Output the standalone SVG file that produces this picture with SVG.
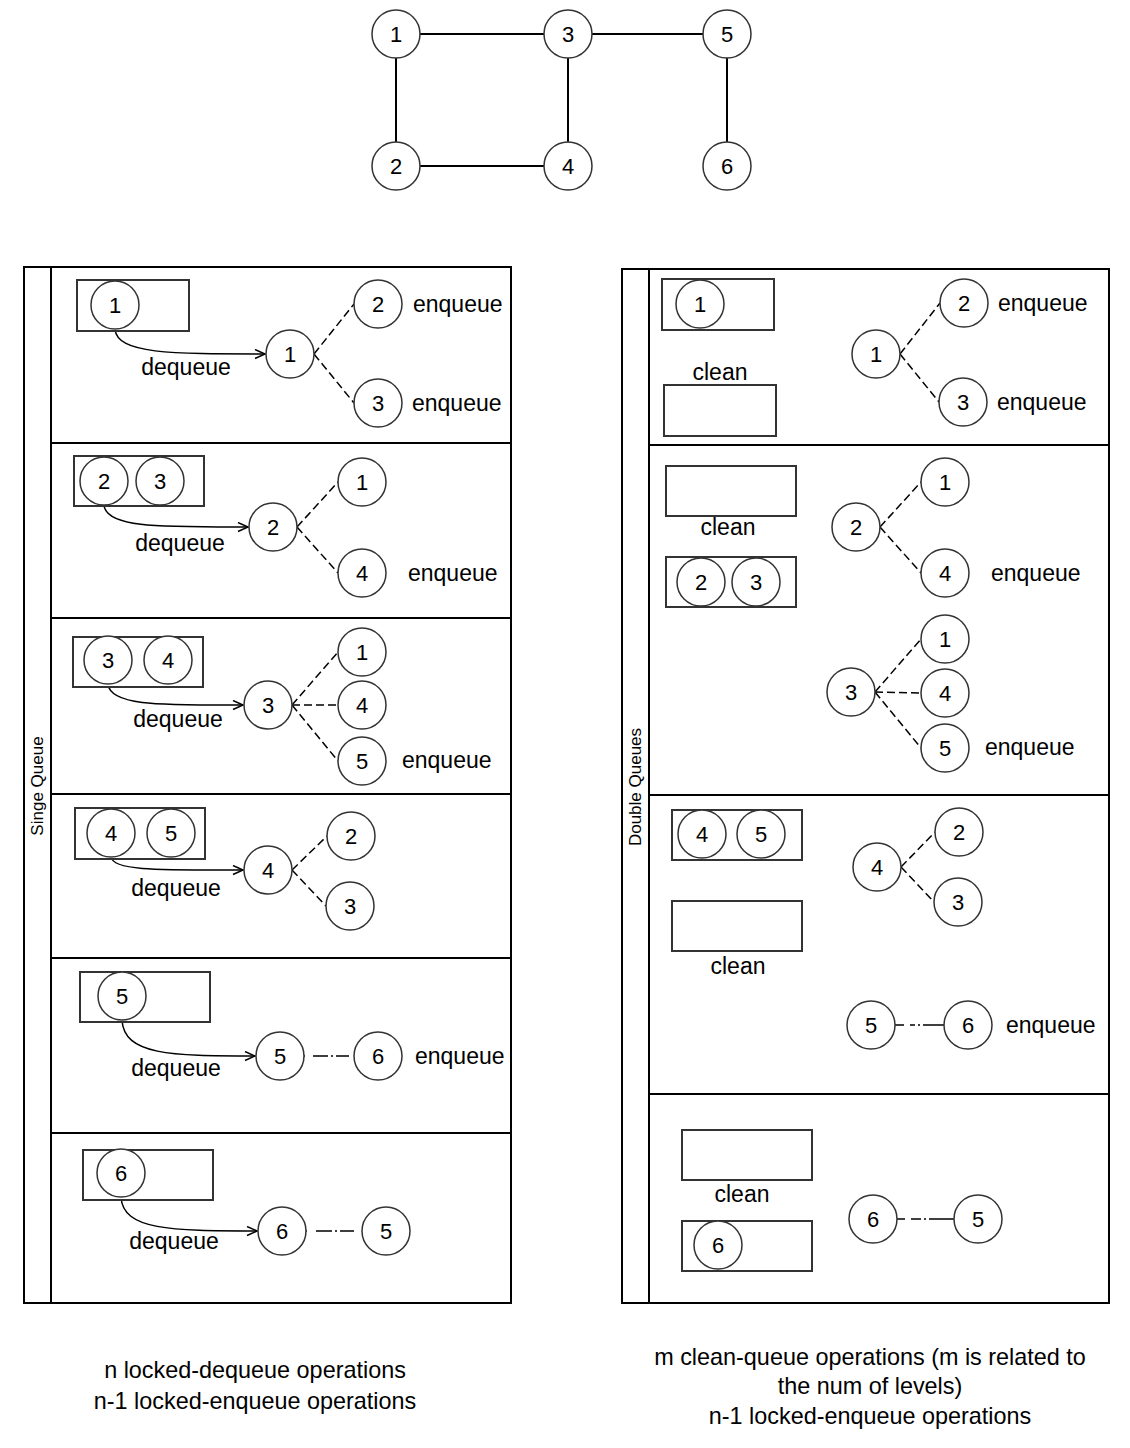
<svg xmlns="http://www.w3.org/2000/svg" width="1130" height="1448" viewBox="0 0 1130 1448">
<style>
.n{fill:#fff;stroke:#333;stroke-width:1.5}
.d{font-family:"Liberation Sans",Arial,sans-serif;font-size:22px;fill:#000;text-anchor:middle}
.l{font-family:"Liberation Sans",Arial,sans-serif;font-size:23px;fill:#000}
.c{font-size:23.4px}
.m{text-anchor:middle}
.q{fill:#fff;stroke:#333;stroke-width:2}
.pool{fill:none;stroke:#000;stroke-width:2}
.e{stroke:#000;stroke-width:2;fill:none}
.ds{stroke:#000;stroke-width:1.5;fill:none;stroke-dasharray:8 4}
.dd{stroke:#000;stroke-width:1.5;fill:none}
.ar{stroke:#000;stroke-width:1.5;fill:none;marker-end:url(#arr)}
.v{font-family:"Liberation Sans",Arial,sans-serif;font-size:17px;fill:#000;text-anchor:middle}
</style>
<defs>
<marker id="arr" markerUnits="userSpaceOnUse" markerWidth="14" markerHeight="12" refX="11" refY="5" orient="auto">
<path d="M1,0.5 L11,5 L1,9.5" fill="none" stroke="#000" stroke-width="1.5"/>
</marker>
</defs>

<!-- pools and lanes -->
<g id="pool-single">
<rect class="pool" x="24" y="267" width="487" height="1036"/>
<line class="pool" x1="51" y1="267" x2="51" y2="1303"/>
<line class="pool" x1="51" y1="443" x2="511" y2="443"/>
<line class="pool" x1="51" y1="618" x2="511" y2="618"/>
<line class="pool" x1="51" y1="794" x2="511" y2="794"/>
<line class="pool" x1="51" y1="958" x2="511" y2="958"/>
<line class="pool" x1="51" y1="1133" x2="511" y2="1133"/>
<text class="v" transform="translate(43,786) rotate(-90)">Singe Queue</text>
</g>
<g id="pool-double">
<rect class="pool" x="622" y="269" width="487" height="1034"/>
<line class="pool" x1="649" y1="269" x2="649" y2="1303"/>
<line class="pool" x1="649" y1="445" x2="1109" y2="445"/>
<line class="pool" x1="649" y1="795" x2="1109" y2="795"/>
<line class="pool" x1="649" y1="1094" x2="1109" y2="1094"/>
<text class="v" transform="translate(641,787) rotate(-90)">Double Queues</text>
</g>

<!-- connectors -->
<g id="connectors">
<line class="e" x1="420" y1="34" x2="544" y2="34"/>
<line class="e" x1="592" y1="34" x2="703" y2="34"/>
<line class="e" x1="396" y1="58" x2="396" y2="142"/>
<line class="e" x1="568" y1="58" x2="568" y2="142"/>
<line class="e" x1="727" y1="58" x2="727" y2="142"/>
<line class="e" x1="420" y1="166" x2="544" y2="166"/>

<path class="ar" d="M115,329 C117,354 170,354 265,354"/>
<path class="ar" d="M104,505 C106,528 160,527 248,527"/>
<path class="ar" d="M108,684 C110,706 160,705 243,705"/>
<path class="ar" d="M111,857 C113,871 160,870 243,870"/>
<path class="ar" d="M122,1020 C124,1055 170,1056 255,1056"/>
<path class="ar" d="M121,1197 C123,1230 170,1231 257,1231"/>

<line class="ds" x1="314" y1="354" x2="354" y2="304"/>
<line class="ds" x1="314" y1="354" x2="354" y2="403"/>
<line class="ds" x1="297" y1="527" x2="338" y2="482"/>
<line class="ds" x1="297" y1="527" x2="338" y2="573"/>
<line class="ds" x1="292" y1="705" x2="338" y2="652"/>
<line class="ds" x1="292" y1="705" x2="338" y2="705"/>
<line class="ds" x1="292" y1="705" x2="338" y2="761"/>
<line class="ds" x1="292" y1="870" x2="327" y2="836"/>
<line class="ds" x1="292" y1="870" x2="326" y2="906"/>
<line class="dd" x1="304" y1="1056" x2="354" y2="1056" style="stroke-dasharray:1 8 15 3 2 3 13 5"/>
<line class="dd" x1="306" y1="1231" x2="362" y2="1231" style="stroke-dasharray:1 9 16 3 2 3 14 8"/>

<line class="ds" x1="900" y1="354" x2="940" y2="303"/>
<line class="ds" x1="900" y1="354" x2="939" y2="402"/>
<line class="ds" x1="880" y1="527" x2="921" y2="482"/>
<line class="ds" x1="880" y1="527" x2="921" y2="573"/>
<line class="ds" x1="875" y1="692" x2="921" y2="639"/>
<line class="ds" x1="875" y1="692" x2="921" y2="693"/>
<line class="ds" x1="875" y1="692" x2="921" y2="748"/>
<line class="ds" x1="901" y1="867" x2="935" y2="832"/>
<line class="ds" x1="901" y1="867" x2="934" y2="902"/>
<line class="dd" x1="895" y1="1025" x2="944" y2="1025" style="stroke-dasharray:9 6 5 3 2 3 21"/>
<line class="dd" x1="897" y1="1219" x2="954" y2="1219" style="stroke-dasharray:8 6 10 3 2 3 25"/>
</g>

<!-- top graph -->
<g id="g1"><circle class="n" cx="396" cy="34" r="24"/><text class="d" x="396" y="42">1</text></g>
<g id="g3"><circle class="n" cx="568" cy="34" r="24"/><text class="d" x="568" y="42">3</text></g>
<g id="g5"><circle class="n" cx="727" cy="34" r="24"/><text class="d" x="727" y="42">5</text></g>
<g id="g2"><circle class="n" cx="396" cy="166" r="24"/><text class="d" x="396" y="174">2</text></g>
<g id="g4"><circle class="n" cx="568" cy="166" r="24"/><text class="d" x="568" y="174">4</text></g>
<g id="g6"><circle class="n" cx="727" cy="166" r="24"/><text class="d" x="727" y="174">6</text></g>

<!-- single queue lane 1 -->
<g id="s1-queue"><rect class="q" x="77" y="280" width="112" height="51"/></g>
<g id="s1-q1"><circle class="n" cx="115" cy="305" r="24"/><text class="d" x="115" y="313">1</text></g>
<g id="s1-n1"><circle class="n" cx="290" cy="354" r="24"/><text class="d" x="290" y="362">1</text></g>
<g id="s1-n2"><circle class="n" cx="378" cy="304" r="24"/><text class="d" x="378" y="312">2</text></g>
<g id="s1-n3"><circle class="n" cx="378" cy="403" r="24"/><text class="d" x="378" y="411">3</text></g>
<g id="s1-labels">
<text class="l m" x="186" y="375">dequeue</text>
<text class="l" x="413" y="312">enqueue</text>
<text class="l" x="412" y="411">enqueue</text>
</g>

<!-- single queue lane 2 -->
<g id="s2-queue"><rect class="q" x="74" y="456" width="130" height="50"/></g>
<g id="s2-q2"><circle class="n" cx="104" cy="481" r="24"/><text class="d" x="104" y="489">2</text></g>
<g id="s2-q3"><circle class="n" cx="160" cy="481" r="24"/><text class="d" x="160" y="489">3</text></g>
<g id="s2-n2"><circle class="n" cx="273" cy="527" r="24"/><text class="d" x="273" y="535">2</text></g>
<g id="s2-n1"><circle class="n" cx="362" cy="482" r="24"/><text class="d" x="362" y="490">1</text></g>
<g id="s2-n4"><circle class="n" cx="362" cy="573" r="24"/><text class="d" x="362" y="581">4</text></g>
<g id="s2-labels">
<text class="l m" x="180" y="551">dequeue</text>
<text class="l" x="408" y="581">enqueue</text>
</g>

<!-- single queue lane 3 -->
<g id="s3-queue"><rect class="q" x="73" y="637" width="130" height="50"/></g>
<g id="s3-q3"><circle class="n" cx="108" cy="660" r="24"/><text class="d" x="108" y="668">3</text></g>
<g id="s3-q4"><circle class="n" cx="168" cy="660" r="24"/><text class="d" x="168" y="668">4</text></g>
<g id="s3-n3"><circle class="n" cx="268" cy="705" r="24"/><text class="d" x="268" y="713">3</text></g>
<g id="s3-n1"><circle class="n" cx="362" cy="652" r="24"/><text class="d" x="362" y="660">1</text></g>
<g id="s3-n4"><circle class="n" cx="362" cy="705" r="24"/><text class="d" x="362" y="713">4</text></g>
<g id="s3-n5"><circle class="n" cx="362" cy="761" r="24"/><text class="d" x="362" y="769">5</text></g>
<g id="s3-labels">
<text class="l m" x="178" y="727">dequeue</text>
<text class="l" x="402" y="768">enqueue</text>
</g>

<!-- single queue lane 4 -->
<g id="s4-queue"><rect class="q" x="75" y="808" width="130" height="51"/></g>
<g id="s4-q4"><circle class="n" cx="111" cy="833" r="24"/><text class="d" x="111" y="841">4</text></g>
<g id="s4-q5"><circle class="n" cx="171" cy="833" r="24"/><text class="d" x="171" y="841">5</text></g>
<g id="s4-n4"><circle class="n" cx="268" cy="870" r="24"/><text class="d" x="268" y="878">4</text></g>
<g id="s4-n2"><circle class="n" cx="351" cy="836" r="24"/><text class="d" x="351" y="844">2</text></g>
<g id="s4-n3"><circle class="n" cx="350" cy="906" r="24"/><text class="d" x="350" y="914">3</text></g>
<g id="s4-labels"><text class="l m" x="176" y="896">dequeue</text></g>

<!-- single queue lane 5 -->
<g id="s5-queue"><rect class="q" x="80" y="972" width="130" height="50"/></g>
<g id="s5-q5"><circle class="n" cx="122" cy="996" r="24"/><text class="d" x="122" y="1004">5</text></g>
<g id="s5-n5"><circle class="n" cx="280" cy="1056" r="24"/><text class="d" x="280" y="1064">5</text></g>
<g id="s5-n6"><circle class="n" cx="378" cy="1056" r="24"/><text class="d" x="378" y="1064">6</text></g>
<g id="s5-labels">
<text class="l m" x="176" y="1076">dequeue</text>
<text class="l" x="415" y="1064">enqueue</text>
</g>

<!-- single queue lane 6 -->
<g id="s6-queue"><rect class="q" x="83" y="1150" width="130" height="50"/></g>
<g id="s6-q6"><circle class="n" cx="121" cy="1173" r="24"/><text class="d" x="121" y="1181">6</text></g>
<g id="s6-n6"><circle class="n" cx="282" cy="1231" r="24"/><text class="d" x="282" y="1239">6</text></g>
<g id="s6-n5"><circle class="n" cx="386" cy="1231" r="24"/><text class="d" x="386" y="1239">5</text></g>
<g id="s6-labels"><text class="l m" x="174" y="1249">dequeue</text></g>

<!-- double queues lane 1 -->
<g id="d1-queue-a"><rect class="q" x="662" y="279" width="112" height="51"/></g>
<g id="d1-q1"><circle class="n" cx="700" cy="304" r="24"/><text class="d" x="700" y="312">1</text></g>
<g id="d1-queue-b"><rect class="q" x="664" y="385" width="112" height="51"/></g>
<g id="d1-n1"><circle class="n" cx="876" cy="354" r="24"/><text class="d" x="876" y="362">1</text></g>
<g id="d1-n2"><circle class="n" cx="964" cy="303" r="24"/><text class="d" x="964" y="311">2</text></g>
<g id="d1-n3"><circle class="n" cx="963" cy="402" r="24"/><text class="d" x="963" y="410">3</text></g>
<g id="d1-labels">
<text class="l m" x="720" y="380">clean</text>
<text class="l" x="998" y="311">enqueue</text>
<text class="l" x="997" y="410">enqueue</text>
</g>

<!-- double queues lane 2 -->
<g id="d2-queue-a"><rect class="q" x="666" y="466" width="130" height="50"/></g>
<g id="d2-queue-b"><rect class="q" x="666" y="557" width="130" height="50"/></g>
<g id="d2-q2"><circle class="n" cx="701" cy="582" r="24"/><text class="d" x="701" y="590">2</text></g>
<g id="d2-q3"><circle class="n" cx="756" cy="582" r="24"/><text class="d" x="756" y="590">3</text></g>
<g id="d2-n2"><circle class="n" cx="856" cy="527" r="24"/><text class="d" x="856" y="535">2</text></g>
<g id="d2-n1"><circle class="n" cx="945" cy="482" r="24"/><text class="d" x="945" y="490">1</text></g>
<g id="d2-n4"><circle class="n" cx="945" cy="573" r="24"/><text class="d" x="945" y="581">4</text></g>
<g id="d2-n3b"><circle class="n" cx="851" cy="692" r="24"/><text class="d" x="851" y="700">3</text></g>
<g id="d2-n1b"><circle class="n" cx="945" cy="639" r="24"/><text class="d" x="945" y="647">1</text></g>
<g id="d2-n4b"><circle class="n" cx="945" cy="693" r="24"/><text class="d" x="945" y="701">4</text></g>
<g id="d2-n5b"><circle class="n" cx="945" cy="748" r="24"/><text class="d" x="945" y="756">5</text></g>
<g id="d2-labels">
<text class="l m" x="728" y="535">clean</text>
<text class="l" x="991" y="581">enqueue</text>
<text class="l" x="985" y="755">enqueue</text>
</g>

<!-- double queues lane 3 -->
<g id="d3-queue-a"><rect class="q" x="672" y="810" width="130" height="50"/></g>
<g id="d3-q4"><circle class="n" cx="702" cy="834" r="24"/><text class="d" x="702" y="842">4</text></g>
<g id="d3-q5"><circle class="n" cx="761" cy="834" r="24"/><text class="d" x="761" y="842">5</text></g>
<g id="d3-queue-b"><rect class="q" x="672" y="901" width="130" height="50"/></g>
<g id="d3-n4"><circle class="n" cx="877" cy="867" r="24"/><text class="d" x="877" y="875">4</text></g>
<g id="d3-n2"><circle class="n" cx="959" cy="832" r="24"/><text class="d" x="959" y="840">2</text></g>
<g id="d3-n3"><circle class="n" cx="958" cy="902" r="24"/><text class="d" x="958" y="910">3</text></g>
<g id="d3-n5"><circle class="n" cx="871" cy="1025" r="24"/><text class="d" x="871" y="1033">5</text></g>
<g id="d3-n6"><circle class="n" cx="968" cy="1025" r="24"/><text class="d" x="968" y="1033">6</text></g>
<g id="d3-labels">
<text class="l m" x="738" y="974">clean</text>
<text class="l" x="1006" y="1033">enqueue</text>
</g>

<!-- double queues lane 4 -->
<g id="d4-queue-a"><rect class="q" x="682" y="1130" width="130" height="50"/></g>
<g id="d4-queue-b"><rect class="q" x="682" y="1221" width="130" height="50"/></g>
<g id="d4-q6"><circle class="n" cx="718" cy="1245" r="24"/><text class="d" x="718" y="1253">6</text></g>
<g id="d4-n6"><circle class="n" cx="873" cy="1219" r="24"/><text class="d" x="873" y="1227">6</text></g>
<g id="d4-n5"><circle class="n" cx="978" cy="1219" r="24"/><text class="d" x="978" y="1227">5</text></g>
<g id="d4-labels"><text class="l m" x="742" y="1202">clean</text></g>

<!-- captions -->
<g id="caption-left">
<text class="l c m" x="255" y="1378">n locked-dequeue operations</text>
<text class="l c m" x="255" y="1409">n-1 locked-enqueue operations</text>
</g>
<g id="caption-right">
<text class="l c m" x="870" y="1365">m clean-queue operations (m is related to</text>
<text class="l c m" x="870" y="1394">the num of levels)</text>
<text class="l c m" x="870" y="1424">n-1 locked-enqueue operations</text>
</g>
</svg>
